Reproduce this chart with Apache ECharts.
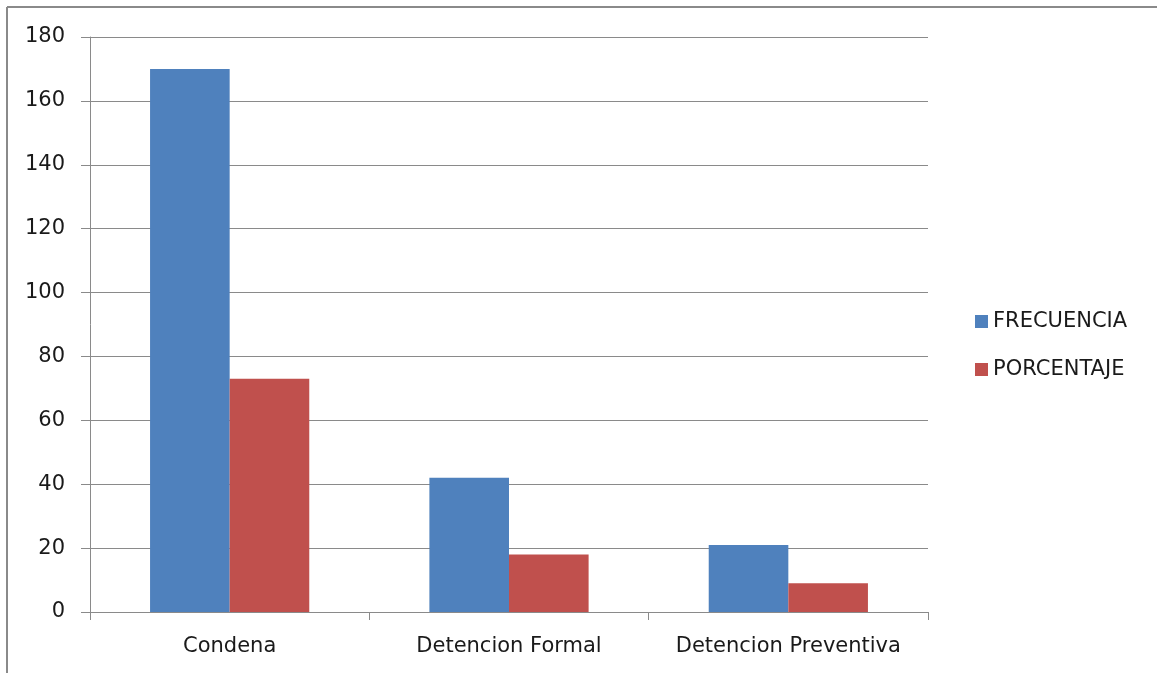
<!DOCTYPE html>
<html><head><meta charset="utf-8">
<script src="https://cdn.jsdelivr.net/npm/echarts@6/dist/echarts.min.js"></script>
<style>html,body{margin:0;padding:0;background:#fff}#c{width:1157px;height:673px}</style>
</head><body><div id="c"></div>
<script>
const categories = ['Condena', 'Detencion Formal', 'Detencion Preventiva'];
const frecuencia = [170, 42, 21];
const porcentaje = [73, 18, 9];
const seriesNames = ['FRECUENCIA', 'PORCENTAJE'];

const chart = echarts.init(document.getElementById('c'));
const font = 'DejaVu Sans';
chart.setOption({
  animation: false,
  backgroundColor: '#fff',
  graphic: [
    { type: 'line', shape: { x1: 7, y1: 7, x2: 1157, y2: 7 }, style: { stroke: '#8a8a8a', lineWidth: 2 } },
    { type: 'line', shape: { x1: 7, y1: 7, x2: 7, y2: 673 }, style: { stroke: '#8a8a8a', lineWidth: 2 } }
  ],
  grid: { left: 90, right: 229, top: 37, bottom: 61, containLabel: false },
  legend: {
    orient: 'vertical', left: 970, top: 306, itemGap: 27, itemWidth: 13, itemHeight: 13, icon: 'rect',
    textStyle: { fontFamily: font, fontSize: 21, color: '#1a1a1a' },
    data: seriesNames
  },
  xAxis: {
    type: 'category', data: categories,
    axisLine: { lineStyle: { color: '#8a8a8a', width: 1 } },
    axisTick: { show: true, length: 8, interval: 0, lineStyle: { color: '#8a8a8a' } },
    axisLabel: { fontFamily: font, fontSize: 21, color: '#1a1a1a', margin: 24, interval: 0 }
  },
  yAxis: {
    type: 'value', min: 0, max: 180, interval: 20,
    axisLine: { show: true, lineStyle: { color: '#8a8a8a' } },
    axisTick: { show: true, length: 9, lineStyle: { color: '#8a8a8a' } },
    axisLabel: { fontFamily: font, fontSize: 21, color: '#1a1a1a', margin: 25 },
    splitLine: { show: true, lineStyle: { color: '#8a8a8a', width: 1 } }
  },
  series: [
    { name: seriesNames[0], type: 'bar', data: frecuencia, barGap: '0%', barCategoryGap: '43%',
      itemStyle: { color: '#4f81bd' } },
    { name: seriesNames[1], type: 'bar', data: porcentaje, barGap: '0%', barCategoryGap: '43%',
      itemStyle: { color: '#c0504d' } }
  ]
});
</script></body></html>
